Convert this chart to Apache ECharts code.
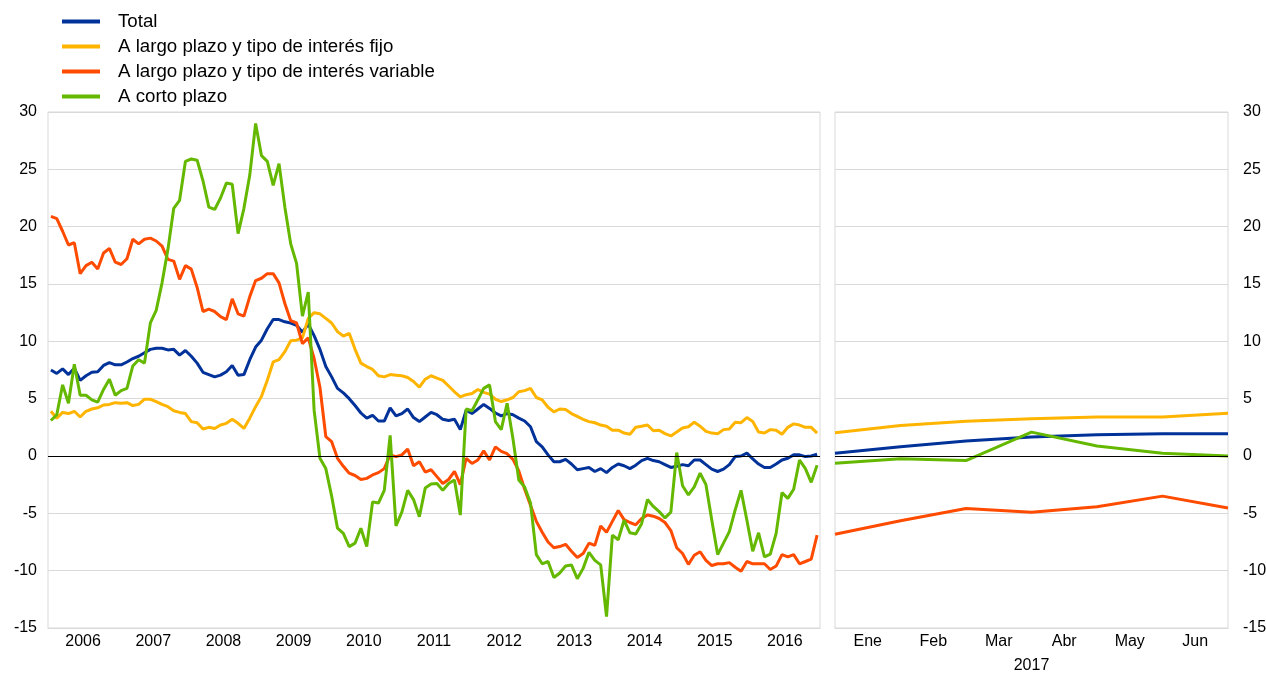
<!DOCTYPE html>
<html>
<head>
<meta charset="utf-8">
<title>Préstamos</title>
<script src="https://cdn.jsdelivr.net/npm/echarts@6/dist/echarts.min.js"></script>
<style>
	html, body { margin: 0; padding: 0; background: #fff; }
	#chart { width: 1266px; height: 673px; }
</style>
</head>
<body>
<div id="chart"></div>
<script>
//	datos mensuales 2006-2016
var years = ['2006', '2007', '2008', '2009', '2010', '2011', '2012', '2013', '2014', '2015', '2016'];

var total = [
	7.5, 7.2, 7.6, 7.1, 7.65, 6.6, 7.0, 7.3, 7.35, 7.9, 8.15, 7.95,
	7.95, 8.2, 8.5, 8.7, 9.0, 9.3, 9.4, 9.4, 9.25, 9.3, 8.8, 9.2,
	8.7, 8.1, 7.3, 7.1, 6.9, 7.05, 7.35, 7.9, 7.05, 7.1, 8.4, 9.5,
	10.1, 11.1, 11.9, 11.9, 11.7, 11.6, 11.4, 10.8, 11.5, 10.5, 9.3, 7.8,
	6.9, 5.9, 5.5, 5.0, 4.4, 3.75, 3.3, 3.55, 3.05, 3.05, 4.2, 3.5,
	3.7, 4.1, 3.35, 3.0, 3.4, 3.8, 3.6, 3.2, 3.1, 3.2, 2.3, 4.0,
	3.7, 4.1, 4.5, 4.15, 3.75, 3.5, 3.7, 3.6, 3.3, 3.05, 2.55, 1.25,
	0.8, 0.1, -0.5, -0.5, -0.3, -0.7, -1.2, -1.1, -1.0, -1.35, -1.1, -1.45,
	-1.0, -0.7, -0.85, -1.1, -0.8, -0.4, -0.2, -0.4, -0.5, -0.75, -1.0, -0.9,
	-0.75, -0.85, -0.35, -0.35, -0.75, -1.15, -1.35, -1.15, -0.75, -0.05, 0.0, 0.25,
	-0.25, -0.7, -1.0, -1.0, -0.7, -0.35, -0.2, 0.1, 0.1, -0.05, 0.0, 0.15
];
var fijo = [
	3.9, 3.3, 3.8, 3.7, 3.9, 3.4, 3.9, 4.1, 4.2, 4.45, 4.5, 4.65,
	4.6, 4.65, 4.4, 4.5, 4.95, 4.95, 4.75, 4.5, 4.3, 3.95, 3.8, 3.7,
	3.0, 2.9, 2.35, 2.5, 2.4, 2.7, 2.85, 3.2, 2.85, 2.4, 3.3, 4.3,
	5.2, 6.6, 8.2, 8.4, 9.1, 10.05, 10.1, 10.3, 12.0, 12.5, 12.4, 12.0,
	11.6, 10.85, 10.45, 10.7, 9.3, 8.1, 7.8, 7.55, 7.0, 6.9, 7.1, 7.05,
	7.0, 6.85, 6.5, 6.0, 6.7, 7.0, 6.8, 6.6, 6.1, 5.6, 5.15, 5.35,
	5.45, 5.8, 5.55, 5.4, 4.95, 4.75, 4.9, 5.1, 5.6, 5.7, 5.9, 5.1,
	4.9, 4.25, 3.85, 4.1, 4.05, 3.7, 3.45, 3.2, 3.0, 2.9, 2.7, 2.6,
	2.25, 2.25, 2.0, 1.9, 2.5, 2.6, 2.7, 2.2, 2.25, 1.95, 1.75, 2.1,
	2.45, 2.55, 2.95, 2.6, 2.15, 2.0, 1.95, 2.3, 2.35, 2.95, 2.9, 3.35,
	3.0, 2.1, 2.0, 2.3, 2.25, 1.9, 2.5, 2.8, 2.7, 2.5, 2.5, 2.0
];
var variable = [
	20.9, 20.7, 19.6, 18.4, 18.6, 15.9, 16.6, 16.9, 16.3, 17.7, 18.1, 16.9,
	16.7, 17.2, 18.9, 18.5, 18.9, 19.0, 18.75, 18.3, 17.15, 17.0, 15.4, 16.6,
	16.3, 14.7, 12.6, 12.8, 12.6, 12.15, 11.9, 13.7, 12.4, 12.2, 13.9, 15.3,
	15.5, 15.9, 15.9, 15.1, 13.3, 11.8, 11.6, 9.8, 10.3, 8.5, 6.0, 1.7,
	1.25, -0.2, -0.9, -1.5, -1.7, -2.05, -1.95, -1.65, -1.45, -1.1, 0.1, -0.05,
	0.1, 0.6, -0.85, -0.5, -1.4, -1.2, -1.8, -2.4, -2.05, -1.35, -2.5, -0.2,
	-0.65, -0.35, 0.45, -0.35, 0.8, 0.4, 0.2, -0.3, -1.3, -2.9, -4.3, -5.7,
	-6.65, -7.5, -8.0, -7.9, -7.7, -8.3, -8.85, -8.5, -7.6, -7.8, -6.1, -6.65,
	-5.7, -4.75, -5.55, -5.8, -6.0, -5.45, -5.15, -5.25, -5.45, -5.8, -6.5, -8.0,
	-8.5, -9.45, -8.65, -8.35, -9.1, -9.55, -9.4, -9.4, -9.3, -9.7, -10.05, -9.2,
	-9.4, -9.4, -9.4, -9.9, -9.6, -8.6, -8.8, -8.6, -9.4, -9.2, -9.0, -6.9
];
var corto = [
	3.1, 3.6, 6.2, 4.6, 8.0, 5.3, 5.3, 4.9, 4.7, 5.8, 6.7, 5.3,
	5.7, 5.9, 7.85, 8.4, 8.1, 11.6, 12.7, 15.1, 18.0, 21.6, 22.3, 25.7,
	25.9, 25.8, 24.0, 21.7, 21.5, 22.5, 23.8, 23.7, 19.4, 21.6, 24.5, 29.0,
	26.2, 25.7, 23.6, 25.5, 21.7, 18.5, 16.8, 12.2, 14.3, 4.0, -0.2, -1.1,
	-3.5, -6.3, -6.75, -7.9, -7.6, -6.3, -7.9, -4.0, -4.1, -3.0, 1.8, -6.1,
	-4.9, -3.0, -3.8, -5.3, -2.8, -2.45, -2.4, -3.0, -2.4, -2.1, -5.15, 4.1,
	3.95, 4.9, 5.9, 6.2, 3.0, 2.3, 4.6, 1.5, -2.1, -2.7, -4.1, -8.6,
	-9.4, -9.2, -10.6, -10.2, -9.6, -9.5, -10.7, -9.8, -8.4, -9.1, -9.5, -14.0,
	-6.9, -7.3, -5.6, -6.7, -6.8, -5.9, -3.8, -4.4, -4.85, -5.4, -4.9, 0.3,
	-2.6, -3.4, -2.7, -1.5, -2.5, -5.6, -8.6, -7.6, -6.6, -4.7, -3.0, -5.6,
	-8.3, -6.7, -8.8, -8.55, -6.75, -3.2, -3.7, -2.9, -0.35, -1.1, -2.3, -0.8
];

//	2017 (panel derecho)
var meses2017 = ['Ene', 'Feb', 'Mar', 'Abr', 'May', 'Jun'];
var puntos2017 = ['2017-01', '2017-02', '2017-03', '2017-04', '2017-05', '2017-06', '2017-07'];
var total2017 = [0.23, 0.8, 1.3, 1.65, 1.85, 1.94, 1.94];
var fijo2017 = [2.02, 2.66, 3.03, 3.24, 3.41, 3.41, 3.73];
var variable2017 = [-6.82, -5.64, -4.57, -4.91, -4.42, -3.5, -4.54];
var corto2017 = [-0.64, -0.23, -0.4, 2.08, 0.87, 0.23, 0.0];

var names = ['Total', 'A largo plazo y tipo de interés fijo', 'A largo plazo y tipo de interés variable', 'A corto plazo'];
var colors = ['#003299', '#ffb400', '#ff4b00', '#65b800'];

var months = [];
years.forEach(function (y) {
	for (var m = 1; m <= 12; m++) {
		months.push(y + '-' + (m < 10 ? '0' + m : m));
	}
});

var fontFamily = '"Liberation Sans", Arial, sans-serif';
var gridColor = '#d9d9d9';

function lineSeries(idx, data, panel) {
	var s = {
		name: names[idx],
		type: 'line',
		xAxisIndex: panel === 0 ? 0 : 2,
		yAxisIndex: panel,
		data: data,
		symbol: 'none',
		lineStyle: { width: 3, color: colors[idx] },
		itemStyle: { color: colors[idx] },
		animation: false
	};
	if (idx === 0) { // linea del cero
		s.markLine = {
			silent: true,
			symbol: 'none',
			label: { show: false },
			lineStyle: { color: '#000', width: 1, type: 'solid' },
			data: [{ yAxis: 0 }],
			animation: false
		};
	}
	return s;
}

var chart = echarts.init(document.getElementById('chart'));

var option = {
	backgroundColor: '#fff',
	animation: false,
	textStyle: { fontFamily: fontFamily, color: '#000' },
	legend: {
		left: 57,
		top: 7,
		orient: 'vertical',
		icon: 'rect',
		itemWidth: 38,
		itemHeight: 4,
		itemGap: 6,
		selectedMode: false,
		textStyle: { fontSize: 18.7, color: '#000', fontFamily: fontFamily, lineHeight: 18, padding: [0, 0, 0, 13] },
		data: names
	},
	grid: [
		{ left: 48, right: 446, top: 112, bottom: 45, show: true, borderColor: gridColor, borderWidth: 1, outerBoundsMode: 'none' },
		{ left: 835, right: 38, top: 112, bottom: 45, show: true, borderColor: gridColor, borderWidth: 1, outerBoundsMode: 'none' }
	],
	xAxis: [
		{ gridIndex: 0, type: 'category', data: months, show: false, position: 'top', boundaryGap: true },
		{
			gridIndex: 0, type: 'category', data: years, position: 'bottom', boundaryGap: true,
			axisLine: { lineStyle: { color: gridColor } },
			axisTick: { length: 8, interval: 0, lineStyle: { color: gridColor } },
			axisLabel: { fontSize: 16, color: '#000', margin: 6, interval: 0 },
			splitLine: { show: false }
		},
		{ gridIndex: 1, type: 'category', data: puntos2017, show: false, position: 'top', boundaryGap: false },
		{
			gridIndex: 1, type: 'category', data: meses2017, position: 'bottom', boundaryGap: true,
			axisLine: { lineStyle: { color: gridColor } },
			axisTick: { length: 13, interval: 0, lineStyle: { color: gridColor } },
			axisLabel: { fontSize: 16, color: '#000', margin: 6, interval: 0 },
			splitLine: { show: false },
			name: '2017',
			nameLocation: 'middle',
			nameGap: 30,
			nameTextStyle: { fontSize: 16, color: '#000' }
		}
	],
	yAxis: [
		{
			gridIndex: 0, type: 'value', min: -15, max: 30, interval: 5, position: 'left',
			axisLine: { show: false }, axisTick: { show: false },
			axisLabel: { fontSize: 16, color: '#000', margin: 11 },
			splitLine: { lineStyle: { color: gridColor, width: 1 } }
		},
		{
			gridIndex: 1, type: 'value', min: -15, max: 30, interval: 5, position: 'right',
			axisLine: { show: false }, axisTick: { show: false },
			axisLabel: { fontSize: 16, color: '#000', margin: 15 },
			splitLine: { lineStyle: { color: gridColor, width: 1 } }
		}
	],
	series: [
		lineSeries(0, total, 0),
		lineSeries(1, fijo, 0),
		lineSeries(2, variable, 0),
		lineSeries(3, corto, 0),
		lineSeries(0, total2017, 1),
		lineSeries(1, fijo2017, 1),
		lineSeries(2, variable2017, 1),
		lineSeries(3, corto2017, 1)
	]
};

chart.setOption(option);
</script>
</body>
</html>
